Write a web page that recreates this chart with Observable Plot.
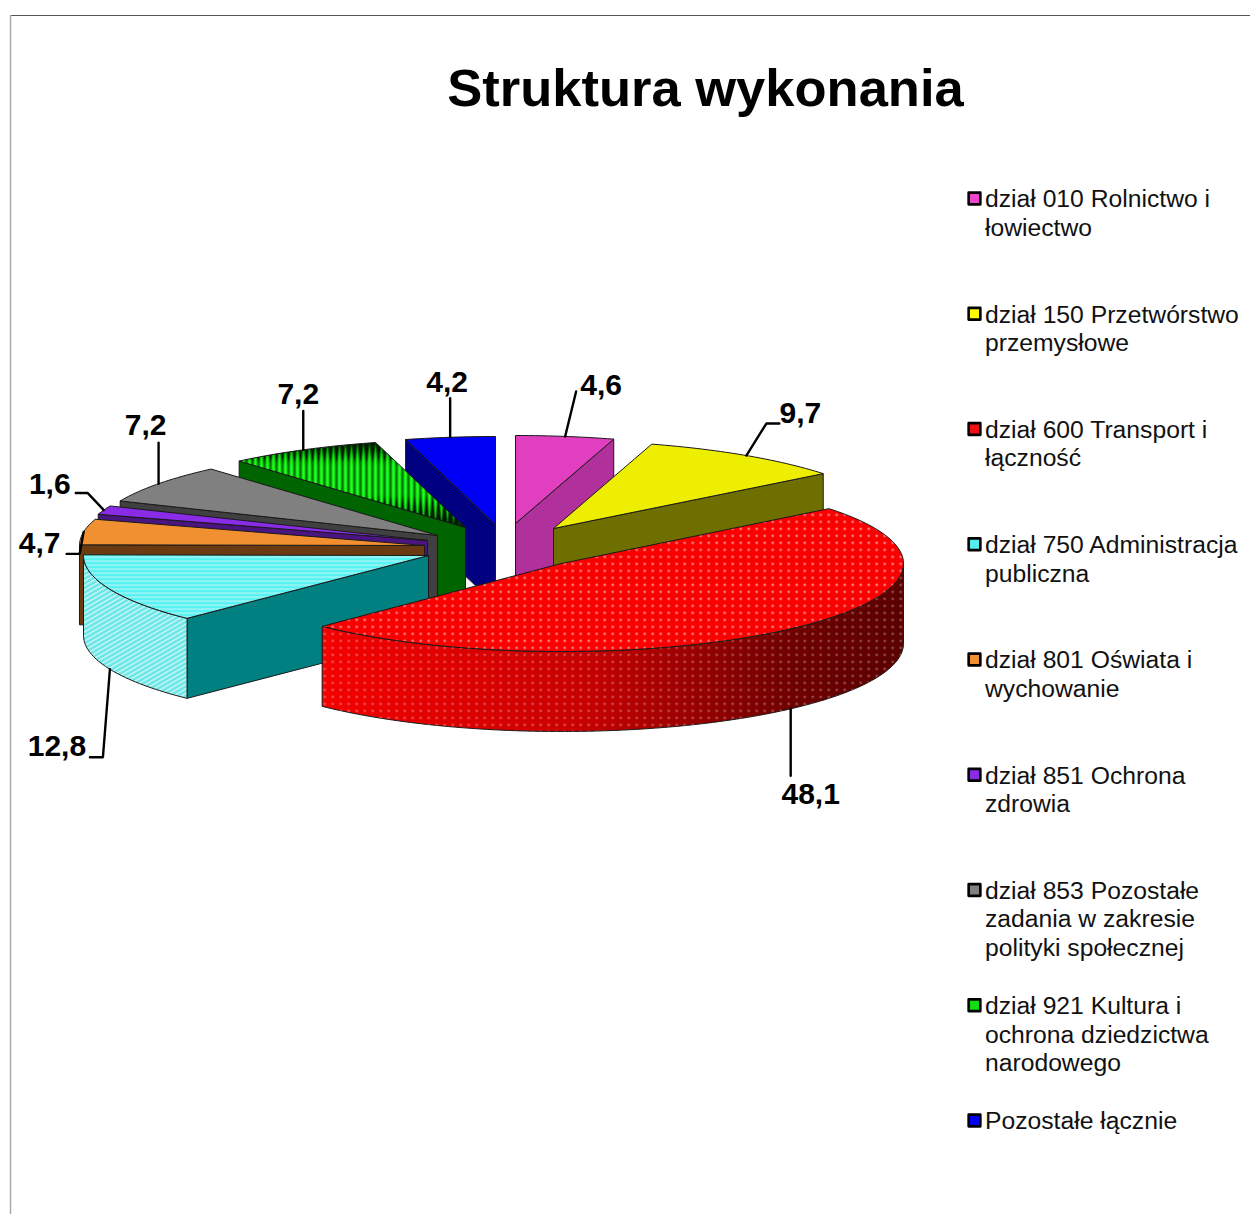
<!DOCTYPE html>
<html><head><meta charset="utf-8">
<script src="https://cdn.jsdelivr.net/npm/d3@7"></script>
<script src="https://cdn.jsdelivr.net/npm/@observablehq/plot@0.6"></script>
<style>html,body{margin:0;padding:0;background:#fff}svg{display:block}</style>
</head><body><div id="chart"></div>
<script>
// ---- data ----
const categories = ["dział 010 Rolnictwo i łowiectwo","dział 150 Przetwórstwo przemysłowe","dział 600 Transport i łączność","dział 750 Administracja publiczna","dział 801 Oświata i wychowanie","dział 851 Ochrona zdrowia","dział 853 Pozostałe zadania w zakresie polityki społecznej","dział 921 Kultura i ochrona dziedzictwa narodowego","Pozostałe łącznie"];
const legendLines = ["dział 010 Rolnictwo i\nłowiectwo","dział 150 Przetwórstwo\nprzemysłowe","dział 600 Transport i\nłączność","dział 750 Administracja\npubliczna","dział 801 Oświata i\nwychowanie","dział 851 Ochrona\nzdrowia","dział 853 Pozostałe\nzadania w zakresie\npolityki społecznej","dział 921 Kultura i\nochrona dziedzictwa\nnarodowego","Pozostałe łącznie"];
const values = [4.6,9.7,48.1,12.8,4.7,1.6,7.2,7.2,4.2];
const title = "Struktura wykonania";

// ---- styles / layout (not data) ----
const swatchColors = ["#ee44cc","#ffff00","#ee1111","#55eeee","#f09030","#8a2be8","#808080","#11dd11","#0000ee"];
const topFills = ["#e23fc0","#eeee00","url(#pRed)","url(#pCyan)","#f09030","#8a2be8","#808080","url(#pGreen)","#0000f5"];
const wallFills = ["#b0309c","#6f6f00","#7a0000","#008080","#6b3a10","#4a1580","#404040","#006400","#000080"];
const outerFills = ["#b0309c","#6f6f00","url(#gRed)","url(#pCyanWall)","#6b3a10","#4a1580","#404040","#006400","#000080"];
const apexX = [515,553,561,428,424,427,437,465,495];
const apexY = [523,528,563,555,545,540,535,527,524];
const radiusX = [345,345,342,345,345,345,345,345,345];
const RY = 88, DEPTH = 80;
const paintOrder = [8,0,7,1,6,5,4,3,2];
const labelPath = [ // leader bends and label centres relative to the rim point
  {pts:[[11,-45]],l:[36,-51]},
  {pts:[[20,-32],[33,-32]],l:[54,-42]},
  {pts:[[0,67]],l:[20,86]},
  {pts:[[-7,88],[-20,88]],l:[-53,77]},
  {pts:[[-4,22],[-17,22]],l:[-44,12]},
  {pts:[[-16,-17],[-28,-17]],l:[-54,-26]},
  {pts:[[0,-41]],l:[-13,-58]},
  {pts:[[0,-39]],l:[-5,-55]},
  {pts:[[0,-39]],l:[-3,-55]}
];

// ---- geometry from values ----
const total = d3.sum(values);
let acc = 0;
const slices = values.map((v,i)=>{
  const a0 = acc/total*2*Math.PI; acc += v; const a1 = acc/total*2*Math.PI;
  return {i,v,a0,a1,cx:apexX[i],cy:apexY[i],rx:radiusX[i]};
});
const rim = (s,a,dz=0)=>[s.cx+s.rx*Math.sin(a), s.cy-RY*Math.cos(a)+dz];
const arc = (s,a0,a1,dz=0)=>{const n=Math.max(2,Math.ceil((a1-a0)/0.02));return d3.range(n+1).map(k=>rim(s,a0+(a1-a0)*k/n,dz));};

const polys = [];
function add(pts,fill,stroke,key){pts.forEach(p=>polys.push({x:p[0],y:p[1],key,fill,stroke}));}
paintOrder.forEach(i=>{
  const s = slices[i];
  const c=[s.cx,s.cy], cb=[s.cx,s.cy+DEPTH];
  const edge=(a,k)=>{const r=rim(s,a),rb=rim(s,a,DEPTH);add([c,r,rb,cb,c],wallFills[i],"#1a1a1a",`${i}${k}`);};
  // only the cut faces turned towards the viewer
  if(Math.sin(s.a0)<0) edge(s.a0,"a");
  if(Math.sin(s.a1)>0) edge(s.a1,"b");
  const top=arc(s,s.a0,s.a1);
  const lo=Math.max(s.a0,Math.PI/2), hi=Math.min(s.a1,3*Math.PI/2);
  if(hi>lo){
    const t=arc(s,lo,hi), b=arc(s,lo,hi,DEPTH).reverse();
    add([...t,...b,t[0]],outerFills[i],"#1a1a1a",`${i}o`);
    if(i===2) add([...t,...b,t[0]],"url(#pRedWall)","none",`${i}od`);
  }
  add([c,...top,c],topFills[i],"#1a1a1a",`${i}t`);
});

const leaders = [], labels = [];
slices.forEach(s=>{
  const m=(s.a0+s.a1)/2, facing=Math.cos(m)<0;
  const p=rim(s,m,facing?DEPTH:0), L=labelPath[s.i];
  [p,...L.pts.map(d=>[p[0]+d[0],p[1]+d[1]])].forEach(q=>leaders.push({x:q[0],y:q[1],k:s.i}));
  labels.push({x:p[0]+L.l[0],y:p[1]+L.l[1],t:s.v.toFixed(1).replace(".",",")});
});
const legend = categories.map((c,i)=>({c,t:legendLines[i],y:198+i*115.25}));

const defs = () => {
  const ns="http://www.w3.org/2000/svg";
  const g=document.createElementNS(ns,"defs");
  g.innerHTML=`
  <pattern id="pRed" width="8" height="7" patternUnits="userSpaceOnUse"><rect width="8" height="7" fill="#fb0000"/><rect x="3" y="2.5" width="2.4" height="1.8" fill="#ffa8a8"/></pattern>
  <pattern id="pRedWall" width="8" height="7" patternUnits="userSpaceOnUse"><rect x="3" y="2.5" width="2.4" height="1.8" fill="#fff" fill-opacity=".4"/></pattern>
  <linearGradient id="gRed" gradientUnits="userSpaceOnUse" x1="322" y1="0" x2="904" y2="0"><stop offset="0" stop-color="#f40000"/><stop offset=".45" stop-color="#c80000"/><stop offset=".8" stop-color="#700000"/><stop offset="1" stop-color="#5a0000"/></linearGradient>
  <pattern id="pCyan" width="4" height="4" patternUnits="userSpaceOnUse"><rect width="4" height="4" fill="#55f2f2"/><rect width="4" height="1.2" fill="#b8f5f5"/></pattern>
  <pattern id="pCyanWall" width="4" height="4" patternUnits="userSpaceOnUse" patternTransform="rotate(-30)"><rect width="4" height="4" fill="#66e6e6"/><rect width="4" height="1.4" fill="#d5f7f7"/></pattern>
  <pattern id="pGreen" x="0" y="438" width="6" height="90" patternUnits="userSpaceOnUse"><rect width="6" height="90" fill="#001c00"/><path d="M3 4L5.6 24V58L3 88L.4 58V24Z" fill="#00b000"/><path d="M3 12L4.4 28V54L3 80L1.6 54V28Z" fill="#20ff20"/></pattern>`;
  return g;
};

const chart = Plot.plot({
  width:1250,height:1214,margin:0,
  x:{domain:[0,1250],range:[0,1250],axis:null},
  y:{domain:[0,1214],range:[0,1214],axis:null},
  marks:[
    defs,
    Plot.ruleY([15],{x1:10,x2:1250,stroke:"#555",strokeWidth:1}),
    Plot.ruleX([10],{y1:15,y2:1214,stroke:"#aaa",strokeWidth:1.5}),
    Plot.line(polys,{x:"x",y:"y",z:"key",fill:"fill",stroke:"stroke",strokeWidth:1,strokeLinejoin:"round",curve:"linear"}),
    Plot.line(leaders,{x:"x",y:"y",z:"k",stroke:"#000",strokeWidth:2.4,curve:"linear"}),
    Plot.text(labels,{x:"x",y:"y",text:"t",fontFamily:"Liberation Sans",fontWeight:"bold",fontSize:30,fill:"#000"}),
    Plot.text([title],{x:[705],y:[88.5],text:d=>d,fontFamily:"Liberation Sans",fontWeight:"bold",fontSize:52.5,fill:"#000"}),
    Plot.dot(legend,{x:()=>974,y:"y",r:6.6,symbol:"square",fill:(d,i)=>swatchColors[i],stroke:"#000",strokeWidth:2.6,strokeLinejoin:"round"}),
    Plot.text(legend,{x:()=>984.5,y:d=>d.y-11.5,text:"t",textAnchor:"start",lineAnchor:"top",lineHeight:1.16,fontFamily:"Liberation Sans",fontSize:24.7,fill:"#111"})
  ]
});
document.getElementById("chart").append(chart);
</script></body></html>
